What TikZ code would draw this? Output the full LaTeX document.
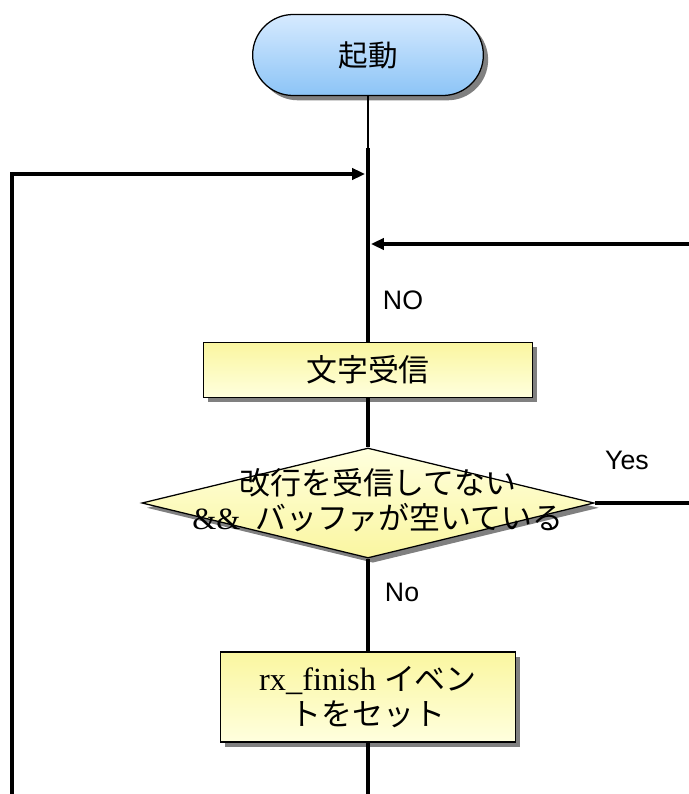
\documentclass[tikz,border=0pt]{standalone}
\usepackage{fontspec}
\setmainfont{Liberation Serif}
\newfontfamily\jp{Noto Sans CJK JP}
\newfontfamily\lab{Liberation Sans}
\usetikzlibrary{arrows.meta,shapes.geometric,shapes.misc,shadows}
\definecolor{termtop}{RGB}{214,234,255}
\definecolor{termbot}{RGB}{140,196,246}
\definecolor{boxtop}{RGB}{250,246,160}
\definecolor{boxbot}{RGB}{255,255,222}

\begin{document}
\begin{tikzpicture}[x=0.025cm,y=-0.025cm,
  shd/.style={drop shadow={shadow xshift=0.12cm,shadow yshift=-0.12cm,fill=black!50,opacity=1}},
  term/.style={rounded rectangle,draw,line width=0.9pt,minimum width=6cm,minimum height=2.025cm,
    top color=termtop,bottom color=termbot,shd,font=\jp\fontsize{21}{24}\selectfont},
  proc/.style={rectangle,draw,line width=0.9pt,top color=boxtop,bottom color=boxbot,shd,
    align=center,inner sep=0pt,font=\fontsize{23}{25}\selectfont},
  dec/.style={diamond,draw,line width=0.9pt,minimum width=11.3cm,minimum height=2.75cm,
    inner sep=0pt,top color=boxbot,bottom color=boxtop,shd},
  flow/.style={line width=2.2pt},
  sig/.style={flow,-{Triangle[length=0.32cm,width=0.28cm]}},
  lbl/.style={font=\lab\fontsize{19}{22}\selectfont},
]
\useasboundingbox (0,0) rectangle (689,794);
% ---------- nodes ----------
\node[term] (start) at (368,55) {起動};
\node[proc,minimum width=8.225cm,minimum height=1.375cm] (read) at (368,370)
  {\jp\fontsize{22}{24}\selectfont 文字受信};
\node[dec] (check) at (368,503) {};
\node[font=\fontsize{22}{25}\selectfont,align=center] (checktxt) at (378,500)
  {{\jp 改行を受信してない}\\\&\& {\jp\ バッファが空いている}};
\node[proc,minimum width=7.375cm,minimum height=2.25cm] (event) at (368,697)
  {rx\_finish {\jp\fontsize{22}{25}\selectfont イベン}\\{\jp\fontsize{22}{25}\selectfont トをセット}};
% ---------- free ends ----------
\coordinate (trunk) at (368,148);
\coordinate (join1) at (365,174);
\coordinate (join2) at (371,244);
\coordinate (rin) at (689,244);
\coordinate (yesend) at (689,503);
\coordinate (loopbot) at (12,794);
\coordinate (bottom) at (368,794);
% ---------- main trunk ----------
\draw[line width=0.8pt] (start.south) -- (trunk);
\draw[flow] (trunk) -- (read.north);
\draw[flow] (read.south) -- (check.north);
\draw[flow] (check.south) -- (event.north);
\draw[flow] (event.south) -- (bottom);
% ---------- loops ----------
\draw[sig] (loopbot) |- (join1);
\draw[sig] (rin) -- (join2);
\draw[flow] (check.east) -- (yesend);
% ---------- labels ----------
\node[lbl,anchor=west] (lno) at (378,300) {NO};
\node[lbl] (lyes) at (627,460) {Yes};
\node[lbl,anchor=west] (lno2) at (380,592) {No};
\end{tikzpicture}
\end{document}
